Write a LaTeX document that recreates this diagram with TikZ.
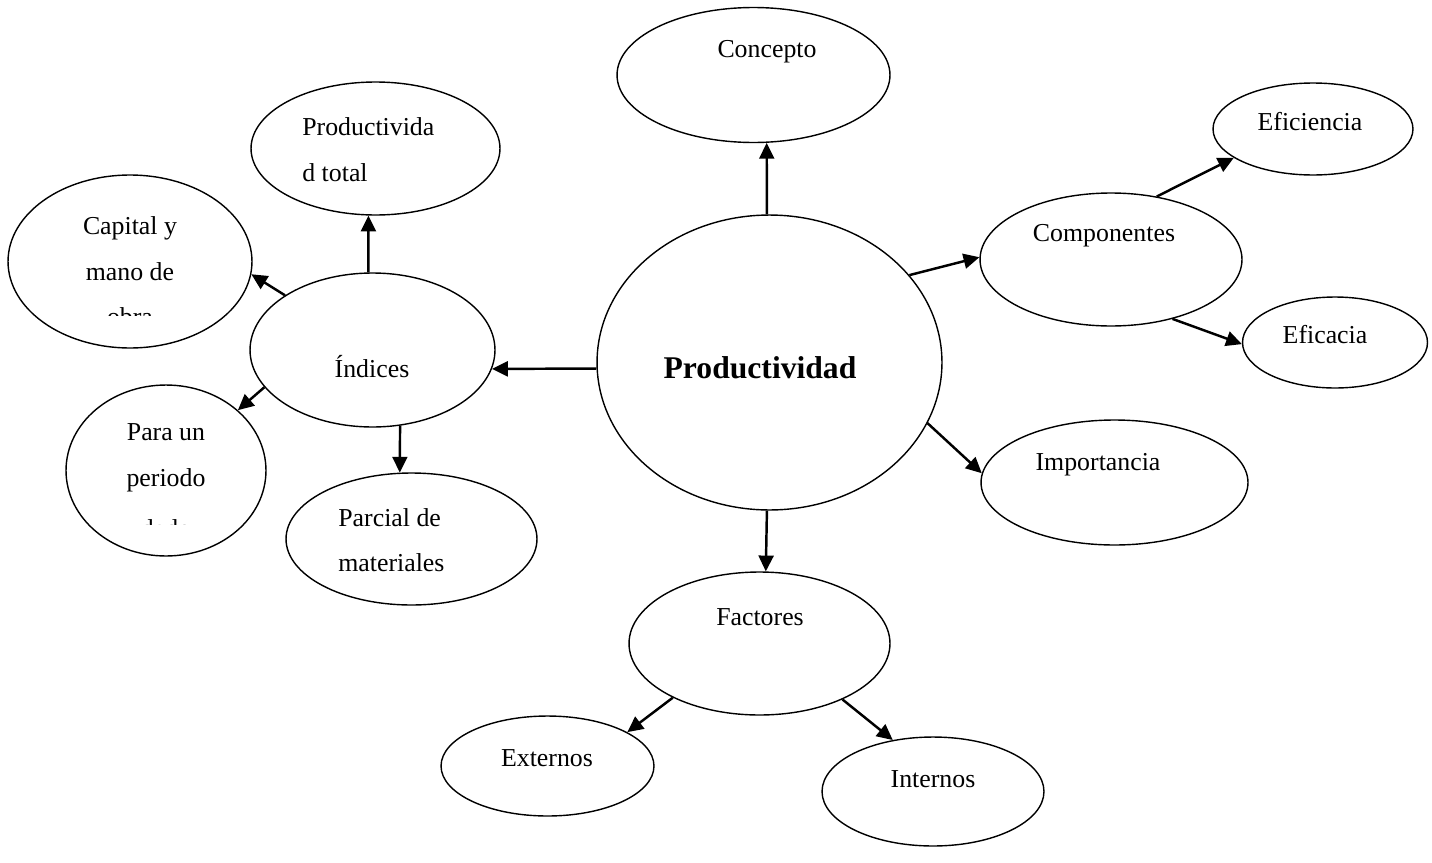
\documentclass[tikz,border=0pt]{standalone}
\usepackage{fontspec}
\setmainfont{Liberation Serif}
\usetikzlibrary{arrows.meta,shapes.geometric}

\begin{document}
\begin{tikzpicture}[x=0.02cm,y=-0.02cm,>={Triangle[length=9pt,width=8.5pt]}]
    \tikzstyle{bubble}=[ellipse, draw, line width=0.8pt, inner sep=0pt]
    \tikzstyle{txt}=[font=\fontsize{14.7}{26}\selectfont, inner sep=0pt]
    \tikzstyle{link}=[->, line width=1.4pt]

    \useasboundingbox (0,0) rectangle (1432,862);

    % elipses
    \node[bubble, minimum width=6.90cm, minimum height=5.90cm] (prod)     at (769.5,362.5) {};
    \node[bubble, minimum width=5.46cm, minimum height=2.70cm] (concepto) at (753.5,75) {};
    \node[bubble, minimum width=4.98cm, minimum height=2.66cm] (ptotal)   at (375.5,148.5) {};
    \node[bubble, minimum width=4.88cm, minimum height=3.46cm] (capital)  at (130,261.5) {};
    \node[bubble, minimum width=4.90cm, minimum height=3.08cm] (indices)  at (372.5,350) {};
    \node[bubble, minimum width=4.00cm, minimum height=3.42cm] (periodo)  at (166,470.5) {};
    \node[bubble, minimum width=5.02cm, minimum height=2.64cm] (parcial)  at (411.5,539) {};
    \node[bubble, minimum width=5.24cm, minimum height=2.66cm] (comp)     at (1111,259.5) {};
    \node[bubble, minimum width=4.00cm, minimum height=1.84cm] (efic)     at (1313,129) {};
    \node[bubble, minimum width=3.70cm, minimum height=1.82cm] (eficacia) at (1335,342.5) {};
    \node[bubble, minimum width=5.34cm, minimum height=2.50cm] (import)   at (1114.5,482.5) {};
    \node[bubble, minimum width=5.22cm, minimum height=2.86cm] (factores) at (759.5,643.5) {};
    \node[bubble, minimum width=4.26cm, minimum height=2.00cm] (externos) at (547.5,766) {};
    \node[bubble, minimum width=4.44cm, minimum height=2.18cm] (internos) at (933,791.5) {};

    % textos
    \node[txt, font=\fontsize{18}{22}\selectfont\bfseries] (prodtxt) at (760,368) {Productividad};
    \node[txt] (conceptotxt) at (767,52) {Concepto};
    \node[txt, align=left, anchor=west] (ptotaltxt) at (302,150) {Productivida\\d total};
    \node[txt, align=center] (capitaltxt) at (130,249) {Capital y\\mano de};
    \node[txt] (indicestxt) at (372,367) {Índices};
    \node[txt, align=center] (periodotxt) at (166,458) {Para un\\periodo};
    \node[txt, align=left, anchor=west] (parcialtxt) at (338,540) {Parcial de\\materiales};
    \node[txt] (comptxt) at (1104,236) {Componentes};
    \node[txt] (efictxt) at (1310,122) {Eficiencia};
    \node[txt] (eficaciatxt) at (1325,335) {Eficacia};
    \node[txt] (importtxt) at (1098,465) {Importancia};
    \node[txt] (factorestxt) at (760,617) {Factores};
    \node[txt] (externostxt) at (547,758) {Externos};
    \node[txt] (internostxt) at (933,779) {Internos};

    % lineas cortadas
    \begin{scope}
      \clip (20,295) rectangle (240,315.5);
      \node[txt, anchor=base] (obratxt) at (130,325) {obra};
    \end{scope}
    \begin{scope}
      \clip (70,505) rectangle (260,524.5);
      \node[txt, anchor=base] (dadotxt) at (166,537) {dado};
    \end{scope}

    % flechas
    \path (prod.91) edge[link] (concepto.-79);
    \path (indices.93) edge[link] (ptotal.264);
    \path (indices.148) edge[link] (capital.-6);
    \path (prod.182) edge[link] (indices.-9);
    \path (indices.199) edge[link] (periodo.40);
    \path (indices.-70) edge[link] (parcial.100);
    \path (prod.32) edge[link] (comp.179);
    \path (comp.54) edge[link] (efic.200);
    \path (comp.-44) edge[link] (eficacia.181);
    \path (prod.-21) edge[link] (import.176);
    \path (prod.269) edge[link] (factores.85);
    \path (factores.212) edge[link] (externos.23);
    \path (factores.-34) edge[link] (internos.128);

\end{tikzpicture}
\end{document}
